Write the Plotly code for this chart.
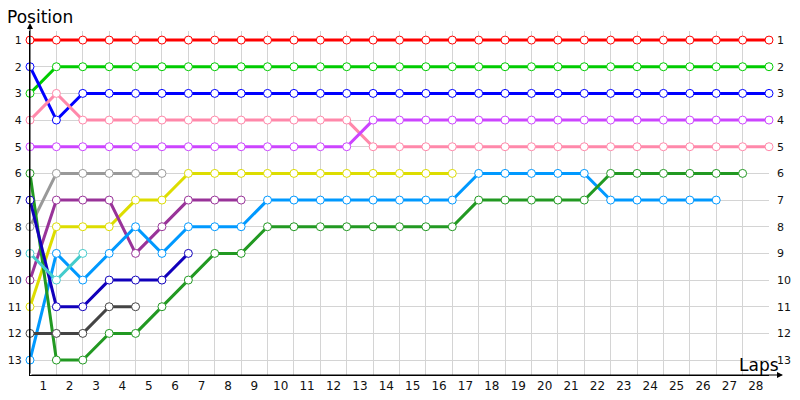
import plotly.graph_objects as go

laps = list(range(29))
laplabels = [str(i) for i in range(1, 29)]
positions = list(range(1, 14))

red = [1] * 29
green = [3] + [2] * 28
blue = [2, 4] + [3] * 27
pink = [4, 3] + [4] * 11 + [5] * 16
magenta = [5] * 13 + [4] * 16
grey = [8, 6, 6, 6, 6, 6]
yellow = [11, 8, 8, 8, 7, 7] + [6] * 11
purple = [10, 7, 7, 7, 9, 8, 7, 7, 7]
lightblue = [13, 9, 10, 9, 8, 9, 8, 8, 8] + [7] * 8 + [6] * 5 + [7] * 5
darkgreen = [6, 13, 13, 12, 12, 11, 10, 9, 9] + [8] * 8 + [7] * 5 + [6] * 6
navy = [7, 11, 11, 10, 10, 10, 9]
darkgrey = [12, 12, 12, 11, 11]
teal = [9, 10, 9]

series = [
    (red, "#ff0000"),
    (green, "#00cc00"),
    (blue, "#0000ff"),
    (pink, "#ff88aa"),
    (magenta, "#cc44ff"),
    (grey, "#999999"),
    (yellow, "#dddd00"),
    (purple, "#993399"),
    (lightblue, "#0099ff"),
    (darkgreen, "#229922"),
    (navy, "#1100bb"),
    (darkgrey, "#444444"),
    (teal, "#44cccc"),
]

fig = go.Figure()

for vals, col in series:
    fig.add_trace(go.Scatter(
        x=laps[:len(vals)], y=vals, mode="lines+markers",
        line=dict(color=col, width=3),
        marker=dict(size=8, color="white", line=dict(color=col, width=1)),
        cliponaxis=False, showlegend=False, hoverinfo="x+y"))

# dummy trace so the right axis gets drawn
fig.add_trace(go.Scatter(x=[None], y=[None], yaxis="y2", showlegend=False))

fnt = dict(family="DejaVu Sans", size=12, color="#111111")
yfnt = dict(family="DejaVu Sans", size=11, color="#111111")

# page body has an 8px margin, so the figure is a bit smaller than the window
fig.update_layout(
    width=784, height=384,
    margin=dict(l=22, r=23, t=23, b=17, autoexpand=False),
    paper_bgcolor="white", plot_bgcolor="white",
    font=fnt,
    xaxis=dict(range=[0, 28], tickvals=[i - 0.5 for i in range(1, 29)], ticktext=laplabels,
               showgrid=False, zeroline=False, showline=True, linecolor="black", linewidth=1,
               ticks="", tickfont=fnt, automargin=False,
               minor=dict(tickvals=laps, showgrid=True, gridcolor="#d4d4d4", gridwidth=1, ticks="")),
    yaxis=dict(range=[13.56, 0.66], tickvals=positions, showgrid=True, gridcolor="#d4d4d4",
               zeroline=False, showline=True, linecolor="black", linewidth=1, ticks="",
               tickfont=yfnt, ticklabelstandoff=5, automargin=False),
    yaxis2=dict(range=[13.56, 0.66], tickvals=positions, overlaying="y", side="right",
                showgrid=False, zeroline=False, showline=False, ticks="", tickfont=yfnt,
                anchor="x", automargin=False, ticklabelstandoff=7),
)

# axis arrows
fig.add_annotation(xref="paper", yref="paper", x=1 + 14 / 739, y=0, ax=-753, ay=0,
                   text="", showarrow=True, arrowhead=2, arrowsize=1.2, arrowwidth=1,
                   arrowcolor="black")
fig.add_annotation(xref="paper", yref="paper", x=0, y=1 + 8 / 344, ax=0, ay=352,
                   text="", showarrow=True, arrowhead=2, arrowsize=1.2, arrowwidth=1,
                   arrowcolor="black")

fig.add_annotation(xref="paper", yref="paper", x=-25 / 739, y=(375 - 17) / 344,
                   xanchor="left", yanchor="middle", text="Position", showarrow=False,
                   font=dict(family="DejaVu Sans", size=17, color="black"))
fig.add_annotation(xref="paper", yref="paper", x=(781 - 30) / 739, y=(375 - 365) / 344,
                   xanchor="right", yanchor="middle", text="Laps", showarrow=False,
                   font=dict(family="DejaVu Sans", size=17, color="black"))

fig.write_html("out.html")
